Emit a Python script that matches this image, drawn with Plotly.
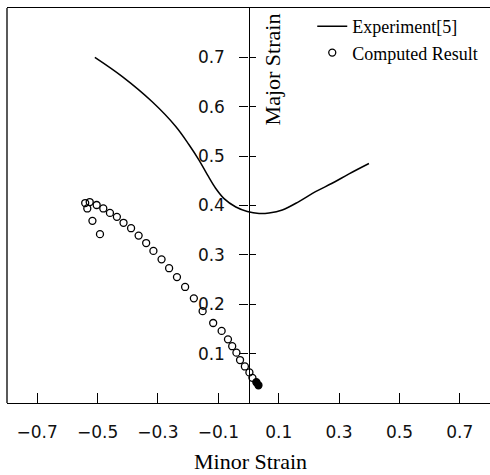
import plotly.graph_objects as go

# Experiment[5] curve (minor strain, major strain)
exp_x = [-0.509, -0.418, -0.319, -0.241, -0.197, -0.164, -0.136, -0.109, -0.081, -0.042,
         -0.004, 0.035, 0.068, 0.112, 0.167, 0.222, 0.277, 0.333, 0.399]
exp_y = [0.700, 0.661, 0.610, 0.560, 0.523, 0.492, 0.462, 0.435, 0.414, 0.397,
         0.388, 0.384, 0.385, 0.391, 0.408, 0.428, 0.445, 0.464, 0.485]

# Computed result points
comp_x = [-0.541, -0.526, -0.534, -0.517, -0.492, -0.503, -0.481, -0.459, -0.436, -0.414, -0.389, -0.364,
          -0.339, -0.315, -0.288, -0.263, -0.237, -0.210, -0.181, -0.152, -0.117, -0.089, -0.068, -0.054,
          -0.040, -0.028, -0.012, 0.003, 0.013, 0.026, 0.033]
comp_y = [0.405, 0.407, 0.394, 0.369, 0.342, 0.401, 0.394, 0.385, 0.377, 0.365, 0.354, 0.339,
          0.324, 0.308, 0.291, 0.273, 0.255, 0.235, 0.212, 0.186, 0.162, 0.146, 0.129, 0.115,
          0.102, 0.087, 0.074, 0.062, 0.051, 0.042, 0.036]
n_filled = 2

x_ticks = [-0.7, -0.5, -0.3, -0.1, 0.1, 0.3, 0.5, 0.7]
x_labels = ["\u22120.7", "\u22120.5", "\u22120.3", "\u22120.1", "0.1", "0.3", "0.5", "0.7"]
y_ticks = [0.1, 0.2, 0.3, 0.4, 0.5, 0.6, 0.7]
y_labels = ["0.1", "0.2", "0.3", "0.4", "0.5", "0.6", "0.7"]

X_RANGE = [-0.8, 0.8]
Y_RANGE = [0.0, 0.8]

symbols = ["circle-open"] * (len(comp_x) - n_filled) + ["circle"] * n_filled

fig = go.Figure()
fig.add_trace(go.Scatter(
    x=exp_x, y=exp_y, mode="lines", name="Experiment[5]",
    line=dict(color="black", width=1.5, shape="spline", smoothing=1.0),
))
fig.add_trace(go.Scatter(
    x=comp_x, y=comp_y, mode="markers", name="Computed Result",
    marker=dict(symbol=symbols, size=7, color="black", line=dict(color="black", width=1.3)),
))
# invisible trace to carry right-side ticks of the crossing y axis
fig.add_trace(go.Scatter(x=[0], y=[0.4], yaxis="y2", mode="markers",
                         marker=dict(opacity=0), showlegend=False, hoverinfo="skip"))

tick_font = dict(family="DejaVu Sans", size=17, color="#111111")
serif = "Liberation Serif, Times New Roman, serif"

fig.update_layout(
    width=490, height=475,
    margin=dict(l=7, r=0, t=8, b=72),
    paper_bgcolor="white", plot_bgcolor="white",
    showlegend=True,
    legend=dict(x=0.632, y=1.0, xanchor="left", yanchor="top",
                font=dict(family=serif, size=18, color="black"),
                bgcolor="rgba(0,0,0,0)", borderwidth=0, itemwidth=30,
                tracegroupgap=0),
    xaxis=dict(range=X_RANGE, tickvals=x_ticks, ticktext=x_labels,
               showgrid=False, zeroline=False, showline=True, linecolor="black", linewidth=1.3,
               mirror=True, ticks="inside", ticklen=10, tickwidth=1.3, tickcolor="black",
               tickfont=tick_font, ticklabelstandoff=13),
    yaxis=dict(range=Y_RANGE, tickvals=y_ticks, ticktext=y_labels,
               anchor="free", position=0.5, side="left",
               showgrid=False, zeroline=False, showline=True, linecolor="black", linewidth=1.3,
               ticks="outside", ticklen=9, tickwidth=1.3, tickcolor="black",
               tickfont=tick_font, ticklabelstandoff=11),
    yaxis2=dict(range=Y_RANGE, tickvals=y_ticks, overlaying="y", anchor="free", position=0.5,
                side="right", showgrid=False, zeroline=False, showline=False,
                ticks="outside", ticklen=6, tickwidth=1.3, tickcolor="black",
                showticklabels=False),
    shapes=[dict(type="line", xref="paper", yref="paper", x0=0, x1=0, y0=0, y1=1,
                 line=dict(color="black", width=1.3))],
    annotations=[
        dict(text="Minor Strain", xref="paper", yref="paper", x=0.505, y=-0.148,
             xanchor="center", yanchor="middle", showarrow=False,
             font=dict(family=serif, size=22, color="black")),
        dict(text="Major Strain", xref="paper", yref="paper", x=0.549, y=0.845,
             xanchor="center", yanchor="middle", textangle=-90, showarrow=False,
             font=dict(family=serif, size=22, color="black")),
    ],
)

fig.write_html("out.html")
